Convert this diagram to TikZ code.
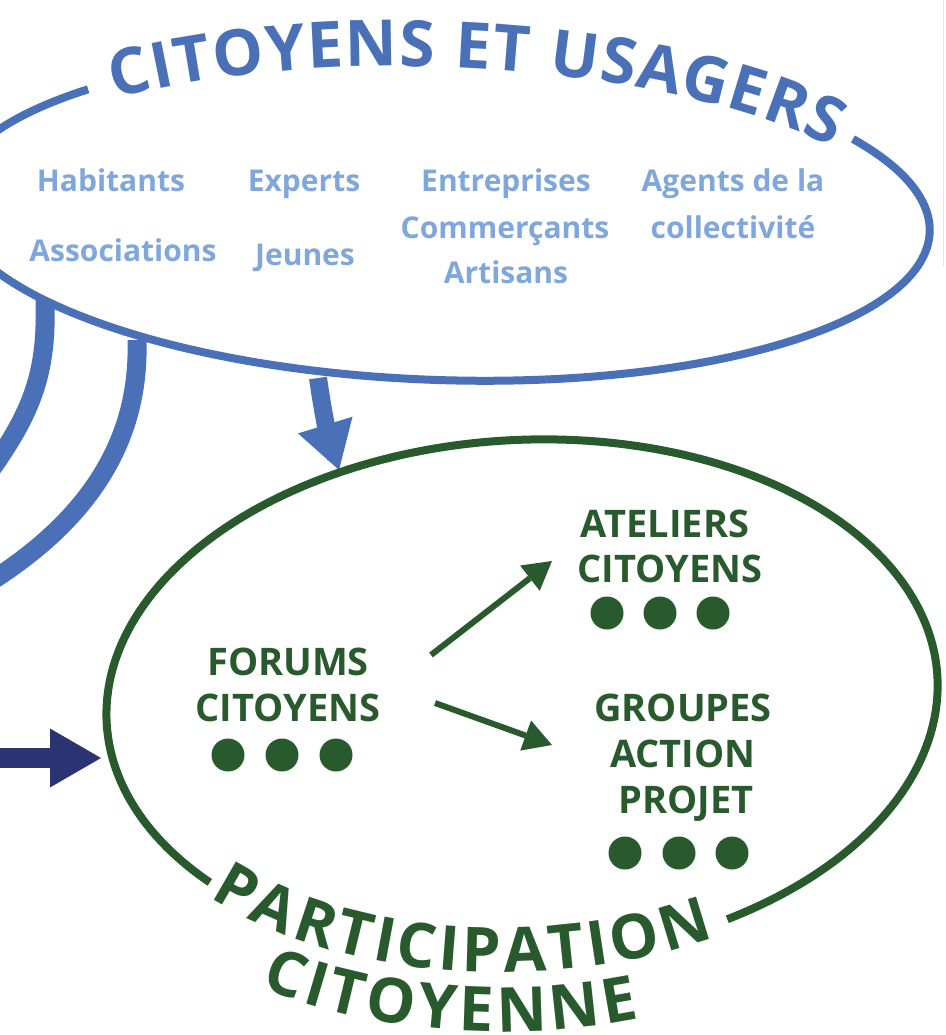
\documentclass[tikz,border=0pt]{standalone}
\usepackage{fontspec}
\setmainfont{Open Sans}
\usetikzlibrary{arrows.meta,decorations.text}
\definecolor{blueline}{HTML}{4A71B7}
\definecolor{lightblue}{HTML}{7FA7DB}
\definecolor{darkgreen}{HTML}{285A2D}
\definecolor{navy}{HTML}{2B3373}
\definecolor{borderg}{HTML}{DCEBDA}
\tikzset{
  lbl/.style={font=\fontsize{30}{30}\selectfont\bfseries, text=lightblue, anchor=base, inner sep=0pt},
  gtxt/.style={font=\fontsize{38}{38}\selectfont\bfseries, text=darkgreen, anchor=base, inner sep=0pt},
  gdot/.style={fill=darkgreen},
  garrow/.style={draw=darkgreen, line width=6pt, -{Triangle[length=28pt,width=32pt,line width=0pt]}},
  bcurve/.style={draw=blueline, line width=19pt},
}
\begin{document}
\begin{tikzpicture}[x=1pt,y=1pt]
\useasboundingbox (0,0) rectangle (945,-1035);
\clip (0,0) rectangle (945,-1035);
% border line at right
\draw[borderg, line width=1.5pt] (943.5,0) -- (943.5,-267);
% blue curves leaving the top ellipse
\coordinate (c1s) at (45,-300);
\coordinate (c1e) at (-15,-478);
\coordinate (c2s) at (137,-340);
\coordinate (c2e) at (-15,-585);
\draw[bcurve] (c1s) .. controls (47,-370) and (35,-410) .. (c1e);
\draw[bcurve] (c2s) .. controls (140,-440) and (90,-520) .. (c2e);
% blue arrow into green ellipse
\coordinate (bas) at (318,-378);
\coordinate (bae) at (339,-470);
\draw[draw=blueline, line width=18pt, -{Triangle[length=47pt,width=57pt,line width=0pt]}] (bas) to[out=-82,in=107] (bae);
% navy arrow
\coordinate (nas) at (-10,-758);
\coordinate (nae) at (101,-758);
\draw[draw=navy, line width=20pt, -{Triangle[length=51pt,width=59pt,line width=0pt]}] (nas) -- (nae);
% top ellipse
\begin{scope}[shift={(440,-215)},rotate=-2]
  \draw[blueline, line width=8pt] (136.6:490 and 165) arc[start angle=136.6,end angle=393.2,x radius=490,y radius=165];
  \path[decorate, decoration={text along path, text align={fit to path}, raise=-17pt,
     text={|\fontsize{64}{64}\selectfont\bfseries\color{blueline}|CITOYENS ET USAGERS}}]
     (133:490 and 165) arc[start angle=133,end angle=36,x radius=490,y radius=165];
\end{scope}
% green ellipse
\begin{scope}[shift={(522,-700)},rotate=3.2]
  \draw[darkgreen, line width=8pt] (-62.4:416 and 260) arc[start angle=-62.4,end angle=219.3,x radius=416,y radius=260];
  \path[decorate, decoration={text along path, text align={fit to path}, raise=-12pt,
     text={|\fontsize{62}{62}\selectfont\bfseries\color{darkgreen}|PARTICIPATION}}]
     (-139.5:416 and 260) arc[start angle=-139.5,end angle=-65,x radius=416,y radius=260];
  \path[decorate, decoration={text along path, text align={fit to path}, raise=-12pt,
     text={|\fontsize{62}{62}\selectfont\bfseries\color{darkgreen}|CITOYENNE}}]
     (-125:475 and 319) arc[start angle=-125,end angle=-78,x radius=475,y radius=319];
\end{scope}
% light blue labels
\node[lbl] (hab) at (111,-192) {Habitants};
\node[lbl] (exp) at (304,-192) {Experts};
\node[lbl] (ent) at (506,-192) {Entreprises};
\node[lbl] (age) at (733,-192) {Agents de la};
\node[lbl] (com) at (505,-238) {Commerçants};
\node[lbl] (col) at (733,-238) {collectivité};
\node[lbl] (art) at (506,-283) {Artisans};
\node[lbl] (ass) at (123,-261) {Associations};
\node[lbl] (jeu) at (305,-265) {Jeunes};
% green texts
\node[gtxt] (for1) at (288,-675) {FORUMS};
\node[gtxt] (for2) at (288,-721) {CITOYENS};
\node[gtxt] (ate1) at (665,-537) {ATELIERS};
\node[gtxt] (ate2) at (670,-582) {CITOYENS};
\node[gtxt] (gro1) at (683,-721) {GROUPES};
\node[gtxt] (gro2) at (683,-767) {ACTION};
\node[gtxt] (gro3) at (686,-813) {PROJET};
% dots
\foreach \x in {228,282,336} \fill[gdot] (\x,-755) circle (16.5);
\foreach \x in {607,660,713} \fill[gdot] (\x,-613) circle (16.5);
\foreach \x in {625,679,732} \fill[gdot] (\x,-853) circle (16.5);
% green arrows
\coordinate (ga1s) at (431,-655);
\coordinate (ga1e) at (552,-561);
\coordinate (ga2s) at (435,-703);
\coordinate (ga2e) at (552,-745);
\draw[garrow] (ga1s) -- (ga1e);
\draw[garrow] (ga2s) -- (ga2e);
\end{tikzpicture}
\end{document}
